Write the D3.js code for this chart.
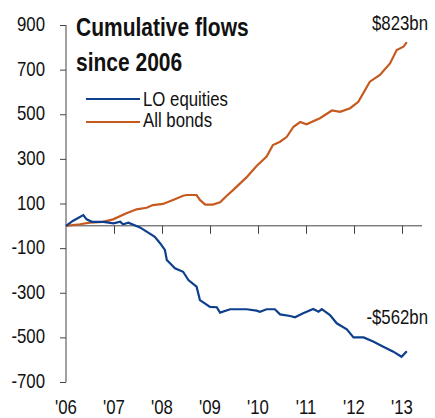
<!DOCTYPE html>
<html>
  <head>
    <meta charset="utf-8">
    <script src="https://d3js.org/d3.v7.min.js"></script>
    <style>
      body { margin: 0; background: #fff; }
      text { font-family: "Liberation Sans", Arial, sans-serif; fill: #111; }
    </style>
  </head>
  <body>
    <svg width="435" height="418" id="chart"></svg>
    <script>
      // cumulative flows, $bn (decimal years)
      var bondYears = [2006.00, 2006.29, 2006.50, 2006.77, 2006.98, 2007.26, 2007.47, 2007.68, 2007.81, 2008.02,
                       2008.23, 2008.44, 2008.51, 2008.72, 2008.79, 2008.90, 2009.06, 2009.21, 2009.35, 2009.48,
                       2009.76, 2009.97, 2010.18, 2010.31, 2010.46, 2010.60, 2010.74, 2010.88, 2011.01, 2011.29,
                       2011.54, 2011.71, 2011.92, 2012.09, 2012.33, 2012.54, 2012.75, 2012.89, 2013.03, 2013.10];
      var bondValues = [0, 7, 14, 18, 29, 56, 74, 81, 93, 98,
                        116, 135, 138, 138, 116, 95, 95, 105, 135, 160,
                        217, 268, 310, 362, 377, 399, 444, 465, 455, 482,
                        517, 511, 527, 556, 646, 676, 728, 788, 803, 823];
      var equityYears = [2006.00, 2006.15, 2006.36, 2006.43, 2006.54, 2006.78, 2006.99, 2007.13, 2007.19, 2007.30,
                         2007.54, 2007.68, 2007.85, 2007.96, 2008.06, 2008.10, 2008.27, 2008.44, 2008.55, 2008.72,
                         2008.79, 2009.00, 2009.14, 2009.21, 2009.42, 2009.76, 2009.97, 2010.04, 2010.18, 2010.35,
                         2010.46, 2010.67, 2010.77, 2010.94, 2011.15, 2011.26, 2011.33, 2011.50, 2011.64, 2011.85,
                         2011.99, 2012.20, 2012.40, 2012.61, 2012.82, 2012.99, 2013.10];
      var equityValues = [0, 23, 48, 29, 18, 18, 11, 18, 7, 14,
                          -7, -26, -49, -78, -108, -153, -190, -206, -243, -273,
                          -333, -363, -365, -389, -374, -374, -380, -385, -374, -374,
                          -397, -404, -410, -392, -373, -385, -373, -400, -437, -464,
                          -500, -500, -519, -542, -564, -587, -562];
      var yTicks = [900, 700, 500, 300, 100, -100, -300, -500, -700];
      var xTicks = [2006, 2007, 2008, 2009, 2010, 2011, 2012, 2013];
      var xTickLabels = ["'06", "'07", "'08", "'09", "'10", "'11", "'12", "'13"];

      var svg = d3.select("#chart");
      var sx = 0.84; // narrow type

      var x = d3.scaleLinear().domain([2006, 2013]).range([66, 402]);
      var y = d3.scaleLinear().domain([-700, 900]).range([382, 25]);

      function label(px, py, str, size, anchor, weight) {
        return svg.append("text")
          .attr("transform", "translate(" + px + "," + py + ") scale(" + sx + ",1)")
          .attr("text-anchor", anchor || "start")
          .style("font-size", size + "px")
          .style("font-weight", weight || "normal")
          .text(str);
      }

      // y axis
      var yAxis = svg.append("g")
        .attr("transform", "translate(66,0)")
        .call(d3.axisLeft(y).tickValues(yTicks).tickSize(6).tickSizeOuter(0).tickFormat(""));
      yAxis.select(".domain").attr("d", "M0," + y(900) + "V" + y(-700));
      yAxis.selectAll("line, path").attr("stroke", "#444");
      yTicks.forEach(function (t) {
        label(45, y(t) + 6, String(t), 20, "end");
      });

      // x axis on zero line
      var xAxis = svg.append("g")
        .attr("transform", "translate(0," + y(0) + ")")
        .call(d3.axisBottom(x).tickValues(xTicks.slice(1)).tickSize(8).tickSizeOuter(0).tickFormat(""));
      xAxis.select(".domain").attr("d", "M66,0H422");
      xAxis.selectAll("line, path").attr("stroke", "#444");
      xTicks.forEach(function (t, i) {
        label(x(t), 414, xTickLabels[i], 20, "middle");
      });

      var line = d3.line()
        .x(function (d) { return x(d[0]); })
        .y(function (d) { return y(d[1]); });

      svg.append("path")
        .datum(d3.zip(bondYears, bondValues))
        .attr("fill", "none")
        .attr("stroke", "#c65a1e")
        .attr("stroke-width", 2.2)
        .attr("d", line);

      svg.append("path")
        .datum(d3.zip(equityYears, equityValues))
        .attr("fill", "none")
        .attr("stroke", "#0d3f8c")
        .attr("stroke-width", 2.2)
        .attr("d", line);

      // title
      label(76, 36, "Cumulative flows", 25, "start", "bold");
      label(76, 71, "since 2006", 25, "start", "bold");

      // legend
      svg.append("line").attr("x1", 86).attr("x2", 140).attr("y1", 99).attr("y2", 99)
        .attr("stroke", "#0d3f8c").attr("stroke-width", 2);
      label(143, 106, "LO equities", 20);
      svg.append("line").attr("x1", 86).attr("x2", 140).attr("y1", 122).attr("y2", 122)
        .attr("stroke", "#c65a1e").attr("stroke-width", 2);
      label(143, 127, "All bonds", 20);

      // end labels
      label(428, 30, "$823bn", 20, "end");
      label(428, 324, "-$562bn", 20, "end");
    </script>
  </body>
</html>
